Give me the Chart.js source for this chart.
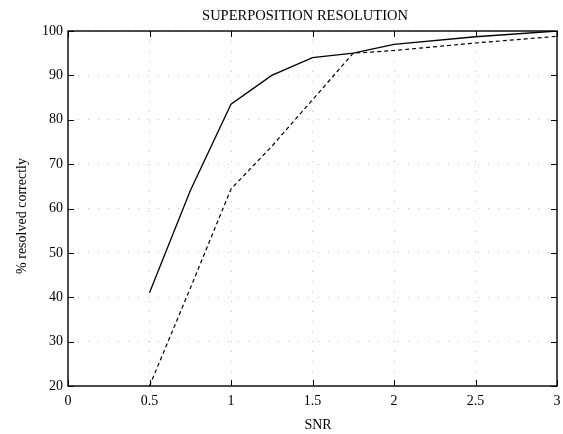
<!DOCTYPE html>
<html>
<head>
<meta charset="utf-8">
<script src="https://cdn.jsdelivr.net/npm/chart.js@4"></script>
<style>
html, body { margin: 0; padding: 0; background: #fff; }
</style>
</head>
<body>
<canvas id="chart" width="563" height="434"></canvas>
<script>
// values
var snr = [0.5, 0.75, 1, 1.25, 1.5, 1.75, 2, 2.5, 3];
var solidPct = [41, 64, 83.5, 90, 94, 95, 97, 98.7, 100];
var dashedPct = [20, 42, 64.4, 74, 84.5, 95, 95.6, 97.3, 98.8];

var xTicks = [0, 0.5, 1, 1.5, 2, 2.5, 3];
var yTicks = [20, 30, 40, 50, 60, 70, 80, 90, 100];

var titleText = 'SUPERPOSITION RESOLUTION';
var xTitle = 'SNR';
var yTitle = '% resolved correctly';

var serif = '"Liberation Serif", "Times New Roman", serif';

function points(ys) {
  return Array.from(ys, (y, i) => ({ x: snr[i], y: y }));
}

// box, inward ticks and the three labels
var framePlugin = {
  id: 'frame',
  afterDraw: function (chart) {
    var c = chart.ctx;
    var a = chart.chartArea;
    var xs = chart.scales.x;
    var ys = chart.scales.y;
    c.save();
    c.strokeStyle = '#000';
    c.lineWidth = 1.4;
    c.strokeRect(a.left, a.top, a.right - a.left, a.bottom - a.top);

    c.lineWidth = 1;
    c.beginPath();
    xTicks.forEach(function (v) {
      var px = Math.round(xs.getPixelForValue(v)) + 0.5;
      c.moveTo(px, a.bottom); c.lineTo(px, a.bottom - 6);
      c.moveTo(px, a.top); c.lineTo(px, a.top + 6);
    });
    yTicks.forEach(function (v) {
      var py = Math.round(ys.getPixelForValue(v)) + 0.5;
      c.moveTo(a.left, py); c.lineTo(a.left + 6, py);
      c.moveTo(a.right, py); c.lineTo(a.right - 6, py);
    });
    c.stroke();

    c.fillStyle = '#000';
    c.textAlign = 'center';
    c.textBaseline = 'middle';
    c.font = '14.5px ' + serif;
    c.fillText(titleText, 305, 16);
    c.font = '14px ' + serif;
    c.fillText(xTitle, 318, 425);
    c.translate(22, 216);
    c.rotate(-Math.PI / 2);
    c.fillText(yTitle, 0, 0);
    c.restore();
  }
};

new Chart(document.getElementById('chart'), {
  type: 'line',
  data: {
    datasets: [{
      data: points(solidPct),
      borderColor: '#000',
      borderWidth: 1.3,
      pointRadius: 0,
      lineTension: 0,
      fill: false
    }, {
      data: points(dashedPct),
      borderColor: '#000',
      borderWidth: 1.2,
      borderDash: [4, 3],
      pointRadius: 0,
      lineTension: 0,
      fill: false
    }]
  },
  options: {
    responsive: false,
    animation: false,
    layout: {
      padding: { top: 31, right: 6, left: 0, bottom: 0 }
    },
    scales: {
      x: {
        type: 'linear',
        min: 0,
        max: 3,
        afterBuildTicks: function (scale) {
          scale.ticks = xTicks.map(v => ({ value: v }));
        },
        afterFit: function (scale) {
          scale.height = 48;
          scale.paddingRight = 0;
        },
        ticks: {
          color: '#000',
          padding: 7,
          maxRotation: 0,
          font: { family: serif, size: 14 },
          callback: function (v) { return String(v); }
        },
        grid: {
          color: 'rgba(0,0,0,0.22)',
          lineWidth: 1,
          drawTicks: false
        },
        border: { display: false, dash: [1, 9] }
      },
      y: {
        min: 20,
        max: 100,
        afterBuildTicks: function (scale) {
          scale.ticks = yTicks.map(v => ({ value: v }));
        },
        afterFit: function (scale) {
          scale.width = 68;
        },
        ticks: {
          color: '#000',
          padding: 5,
          font: { family: serif, size: 14 },
          callback: function (v) { return String(v); }
        },
        grid: {
          color: 'rgba(0,0,0,0.22)',
          lineWidth: 1,
          drawTicks: false
        },
        border: { display: false, dash: [1, 9] }
      }
    },
    plugins: {
      legend: { display: false },
      tooltip: { enabled: false }
    }
  },
  plugins: [framePlugin]
});
</script>
</body>
</html>
